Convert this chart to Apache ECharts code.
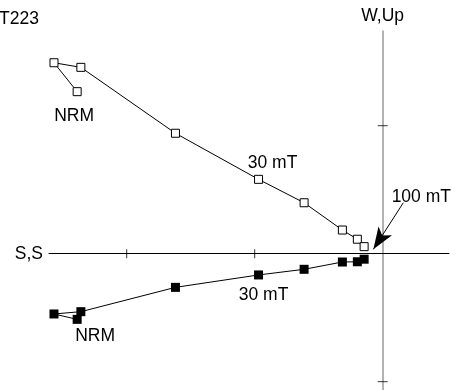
<!DOCTYPE html>
<html>
<head>
<meta charset="utf-8">
<title>T223</title>
<script src="https://cdn.jsdelivr.net/npm/echarts@6/dist/echarts.min.js"></script>
<style>
  html, body { margin: 0; padding: 0; background: #fff; }
  #chart { width: 455px; height: 390px; }
</style>
</head>
<body>
<div id="chart"></div>
<script>
// Demagnetisation steps of specimen T223 (orthogonal vector plot)
const stepLabels = ['NRM', '', '', '', '30 mT', '', '', '', ''];
const north = [-2.387, -2.568, -2.358, -1.619, -0.970, -0.614, -0.315, -0.198, -0.145];
const up    = [1.266, 1.492, 1.456, 0.941, 0.581, 0.398, 0.185, 0.113, 0.055];
const west  = [-0.513, -0.471, -0.453, -0.263, -0.166, -0.122, -0.065, -0.063, -0.043];

// tick marks on the projection axes
const xTicks = [-2, -1];
const yTicks = [1, -1];

// final step annotation
const lastStepLabel = '100 mT';

const FONT = 'Liberation Sans, Arial, Helvetica, sans-serif';
const TEXT = { color: '#000', fontSize: 17.5, fontFamily: FONT };

function projection(vals, labelOffsets) {
  return north.map((n, i) => {
    const item = { value: [n, vals[i]] };
    if (stepLabels[i] && labelOffsets[i]) {
      item.label = Object.assign({
        show: true,
        position: 'inside',
        offset: labelOffsets[i],
        formatter: stepLabels[i]
      }, TEXT);
    }
    return item;
  });
}

const chart = echarts.init(document.getElementById('chart'), null, { renderer: 'canvas' });

chart.setOption({
  animation: false,
  backgroundColor: '#fff',
  title: {
    text: 'T223',
    left: -1,
    top: 10,
    padding: 0,
    textStyle: Object.assign({ fontWeight: 'normal' }, TEXT)
  },
  grid: { left: 49, right: 6, top: 31, bottom: 0, containLabel: false },
  xAxis: {
    type: 'value',
    min: -2.607,
    max: 0.518,
    name: 'S,S',
    nameLocation: 'start',
    nameGap: 6,
    nameTextStyle: TEXT,
    axisLine: { show: true, onZero: true, lineStyle: { color: '#000', width: 1 } },
    axisTick: { show: false },
    axisLabel: { show: false },
    splitLine: { show: false }
  },
  yAxis: {
    type: 'value',
    min: -1.065,
    max: 1.740,
    name: 'W,Up',
    nameLocation: 'end',
    nameGap: 6,
    nameTextStyle: TEXT,
    axisLine: { show: true, onZero: true, lineStyle: { color: '#999', width: 1.5 } },
    axisTick: { show: false },
    axisLabel: { show: false },
    splitLine: { show: false }
  },
  series: [
    {
      // ticks along the horizontal axis
      type: 'scatter',
      silent: true,
      symbol: 'rect',
      symbolSize: [1, 9],
      itemStyle: { color: '#000' },
      data: xTicks.map(t => [t, 0]),
      z: 1
    },
    {
      // ticks along the vertical axis
      type: 'scatter',
      silent: true,
      symbol: 'rect',
      symbolSize: [10, 1],
      itemStyle: { color: '#000' },
      data: yTicks.map(t => [0, t]),
      z: 1
    },
    {
      // vertical projection (N vs Up): open squares
      type: 'line',
      silent: true,
      symbol: 'rect',
      symbolSize: 8,
      showAllSymbol: true,
      lineStyle: { color: '#000', width: 1 },
      itemStyle: { color: '#fff', borderColor: '#000', borderWidth: 1 },
      data: projection(up, { 0: [-3, 25], 4: [14, -16] }),
      z: 3,
      markLine: {
        silent: true,
        symbol: ['none', 'arrow'],
        symbolSize: 18,
        label: { show: false },
        lineStyle: { color: '#000', width: 1, type: 'solid' },
        itemStyle: { color: '#000' },
        data: [[
          { coord: [0.161, 0.398], symbol: 'none' },
          { coord: [-0.073, 0.034], symbol: 'arrow', symbolSize: [12, 22] }
        ]]
      },
      markPoint: {
        silent: true,
        symbol: 'circle',
        symbolSize: 0,
        itemStyle: { color: 'transparent' },
        label: Object.assign({ show: true, position: 'inside', offset: [18, -6], formatter: lastStepLabel }, TEXT),
        data: [{ coord: [0.161, 0.398] }]
      }
    },
    {
      // horizontal projection (N vs W): filled squares
      type: 'line',
      silent: true,
      symbol: 'rect',
      symbolSize: 9,
      showAllSymbol: true,
      lineStyle: { color: '#000', width: 1 },
      itemStyle: { color: '#000', borderColor: '#000', borderWidth: 0 },
      data: projection(west, { 0: [18, 17], 4: [5, 20] }),
      z: 3
    }
  ]
});
</script>
</body>
</html>
